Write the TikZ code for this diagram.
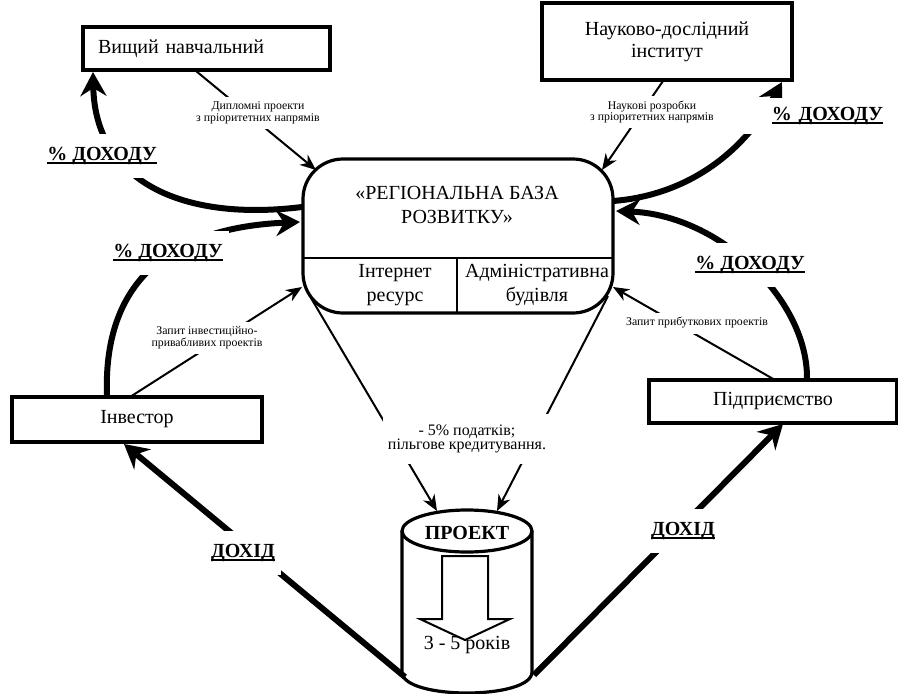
\documentclass[tikz,border=0pt]{standalone}
\usepackage{fontspec}
\setmainfont{Liberation Serif}
\usetikzlibrary{arrows.meta}
\newcommand\myul[1]{\setbox0\hbox{#1}\rlap{\rule[-3.5pt]{\wd0}{1.6pt}}\box0}
\begin{document}
\begin{tikzpicture}[x=1pt,y=-1pt,
  box/.style={draw, line width=3.2pt, inner sep=0pt, font=\fontsize{20}{22}\selectfont, align=center},
  thickarr/.style={line width=6pt, -{Stealth[length=24pt,width=26pt,inset=8pt]}},
  thinarr/.style={line width=2pt, -{Stealth[length=16pt,width=13pt,inset=5pt]}},
  lab/.style={fill=white, inner sep=5pt, font=\fontsize{11.8}{9.5}\selectfont, align=center},
  biglab/.style={fill=white, inner xsep=6pt, inner ysep=0pt, minimum height=44pt, font=\bfseries\fontsize{20}{22}\selectfont},
  txt/.style={font=\fontsize{20}{24}\selectfont, align=center, inner sep=0pt}
]
\useasboundingbox (0,0) rectangle (898,694);

% boxes
\node[box, minimum width=247pt, minimum height=43pt, text width=217pt, align=left] (vnz) at (206.5,48.5) {Вищий навчальний};
\node[box, minimum width=250pt, minimum height=77pt] (nii) at (667,41.5) {Науково-дослідний\\інститут};
\node[box, minimum width=250pt, minimum height=45pt] (inv) at (137,419.5) {Інвестор};
\node[box, minimum width=248pt, minimum height=43pt] (ent) at (773,401.5) {Підприємство};

% central box
\node[draw, line width=3.2pt, rounded corners=40pt, minimum width=310pt, minimum height=154pt, inner sep=0pt] (base) at (458,236) {};
\coordinate (hl) at (303,258); \coordinate (hr) at (613,258);
\coordinate (vt) at (457,258); \coordinate (vb) at (457,313);
\draw[line width=1.4pt] (hl) -- (hr);
\draw[line width=1.4pt] (vt) -- (vb);
\node[txt] (title) at (457,205) {«РЕГІОНАЛЬНА БАЗА\\РОЗВИТКУ»};
\node[txt] (inet) at (395,285) {Інтернет\\ресурс};
\node[txt] (adm) at (537,285) {Адміністративна\\будівля};

% cylinder
\filldraw[fill=white, line width=3.2pt] (402,531) -- (402,672) .. controls (402,700) and (532,700) .. (532,672) -- (532,531);
\draw[line width=3.2pt] (467,531) ellipse [x radius=65pt, y radius=21pt];
\node[font=\bfseries\fontsize{20}{22}\selectfont, inner sep=0pt] (proj) at (467,533) {ПРОЕКТ};
\draw[line width=2pt, fill=white] (442,556) -- (488,556) -- (488,619) -- (510,619) -- (465,640) -- (420,619) -- (442,619) -- cycle;
\node[txt] (yrs) at (467,645) {3 - 5 років};

% connector end points
\coordinate (a1) at (302,207);  \coordinate (a2) at (93,72);
\coordinate (b1) at (107,396);  \coordinate (b2) at (300,222);
\coordinate (c1) at (613,201);  \coordinate (c2) at (782,82);
\coordinate (d1) at (807,379);  \coordinate (d2) at (616,211);
\coordinate (e1) at (405,677);  \coordinate (e2) at (124,444);
\coordinate (f1) at (534,675);  \coordinate (f2) at (783,424);
\coordinate (t1a) at (196,71);  \coordinate (t1b) at (316,170);
\coordinate (t2a) at (663,81);  \coordinate (t2b) at (602,170);
\coordinate (t3a) at (130,397); \coordinate (t3b) at (302,287);
\coordinate (t4a) at (775,380); \coordinate (t4b) at (613,287);
\coordinate (t5a) at (311,298); \coordinate (t5b) at (437,511);
\coordinate (t6a) at (608,296); \coordinate (t6b) at (497,511);

% thick connectors
\draw[thickarr] (a1) .. controls (180,222) and (95,180) .. (a2);
\draw[thickarr] (b1) .. controls (103,290) and (160,228) .. (b2);
\draw[thickarr] (c1) .. controls (690,195) and (745,150) .. (c2);
\draw[thickarr] (d1) .. controls (808,300) and (720,215) .. (d2);
\draw[thickarr] (e1) -- (e2);
\draw[thickarr] (f1) -- (f2);

% thin connectors
\draw[thinarr] (t1a) -- (t1b);
\draw[thinarr] (t2a) -- (t2b);
\draw[thinarr] (t3a) -- (t3b);
\draw[thinarr] (t4a) -- (t4b);
\draw[thinarr] (t5a) -- (t5b);
\draw[thinarr] (t6a) -- (t6b);

% labels
\node[lab] (l1) at (258,113) {Дипломні проекти\\з пріоритетних напрямів};
\node[lab] (l2) at (652,112) {Наукові розробки\\з пріоритетних напрямів};
\node[lab] (l3) at (207,338) {Запит інвестиційно-\\привабливих проектів};
\node[lab] (l4) at (697,323) {Запит прибуткових проектів};
\node[lab, inner ysep=11pt, font=\fontsize{16}{12.5}\selectfont] (l5) at (467,439) {- 5\% податків;\\пільгове кредитування.};

\node[biglab] (p1) at (102,156) {\myul{\% ДОХОДУ}};
\node[biglab] (p2) at (168,253) {\myul{\% ДОХОДУ}};
\node[biglab, minimum height=36pt, text width=140pt, align=right, inner xsep=3pt] (p3) at (813,116) {\myul{\% ДОХОДУ}};
\node[biglab] (p4) at (750,265) {\myul{\% ДОХОДУ}};
\node[biglab] (q1) at (243,553) {\myul{ДОХІД}};
\node[biglab] (q2) at (683,531) {\myul{ДОХІД}};
\end{tikzpicture}
\end{document}
